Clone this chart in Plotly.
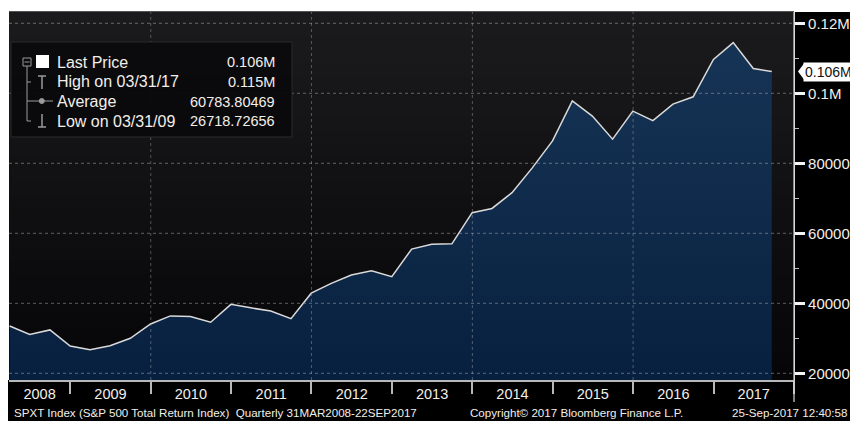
import pandas as pd
import plotly.graph_objects as go

# ---------------- data ----------------
dates = list(pd.date_range("2008-03-31", periods=38, freq="QE").strftime("%Y-%m-%d")) + ["2017-09-22"]
values = [
    33500, 31100, 32400, 27800,          # 2008
    26718.73, 27900, 30000, 34100,       # 2009
    36400, 36200, 34600, 39700,          # 2010
    38700, 37800, 35600, 42900,          # 2011
    45700, 48100, 49300, 47600,          # 2012
    55500, 56900, 57000, 65900,          # 2013
    67100, 71600, 78700, 86400,          # 2014
    97800, 93500, 86900, 94900,          # 2015
    92200, 96900, 99000, 109700,         # 2016
    114500, 107100, 106200,              # 2017
]
years = list(range(2008, 2018))
y_tick_vals = [20000, 40000, 60000, 80000, 100000, 120000]
y_tick_text = ["20000", "40000", "60000", "80000", "0.1M", "0.12M"]
legend_labels = ["Last Price", "High on 03/31/17", "Average", "Low on 03/31/09"]
legend_values = ["0.106M", "0.115M", "60783.80469", "26718.72656"]
footer_left = "SPXT Index (S&P 500 Total Return Index)  Quarterly 31MAR2008-22SEP2017"
footer_mid = "Copyright© 2017 Bloomberg Finance L.P."
footer_right = "25-Sep-2017 12:40:58"

# ---------------- layout geometry ----------------
# the page body has an 8px margin, so the figure origin sits at (8, 8)
OFF = 8
PW, PH = 858, 421                      # page size
FW, FH = PW - OFF, PH - OFF            # figure size
L, R, T, B = 9, 794, 12, 380           # plot area in page pixels
W, H = R - L, B - T
x_range = ["2008-03-28", "2018-01-01"]
y_range = [18090, 123230]

def px(x):
    return (x - L) / W

def py(y):
    return (B - y) / H

FONT = "Liberation Sans, Arial, sans-serif"
TXT = "#f2efe9"

def mid(a, b):
    ta, tb = pd.Timestamp(a), pd.Timestamp(b)
    return (ta + (tb - ta) / 2).strftime("%Y-%m-%d")

year_centers = []
for yr in years:
    start = max(pd.Timestamp(f"{yr}-01-01"), pd.Timestamp(x_range[0]))
    year_centers.append(mid(start, f"{yr + 1}-01-01"))
year_bounds = [f"{yr}-01-01" for yr in years[1:]] + ["2018-01-01"]

fig = go.Figure()
fig.add_trace(go.Scatter(
    x=dates, y=values, mode="lines",
    line=dict(color="#dadada", width=1.5),
    fill="tozeroy",
    fillgradient=dict(type="vertical", start=y_range[0], stop=max(values),
                      colorscale=[[0, "#08203f"], [1, "#163456"]]),
    hoverinfo="x+y", showlegend=False,
))

shapes = []
# white strips (top and left)
shapes.append(dict(type="rect", xref="paper", yref="paper", x0=-0.05, x1=1.2,
                   y0=1, y1=1.2, fillcolor="white", line_width=0, layer="below"))
shapes.append(dict(type="rect", xref="paper", yref="paper", x0=-0.05, x1=0,
                   y0=0, y1=1.2, fillcolor="white", line_width=0, layer="below"))
# background gradient bands
NB = 28
c_top, c_bot = (27, 27, 29), (6, 6, 8)
for i in range(NB):
    f = i / (NB - 1)
    c = tuple(round(c_bot[k] + (c_top[k] - c_bot[k]) * f) for k in range(3))
    shapes.append(dict(type="rect", xref="paper", yref="paper", x0=0, x1=1,
                       y0=i / NB, y1=(i + 1) / NB + 0.002,
                       fillcolor=f"rgb{c}", line_width=0, layer="below"))
# grid (dotted, drawn above the fill)
for v in y_tick_vals:
    shapes.append(dict(type="line", xref="paper", yref="y", x0=0, x1=1, y0=v, y1=v,
                       line=dict(color="rgba(165,165,170,0.55)", width=1, dash="dot"),
                       layer="above"))
for yr in [2010, 2012, 2014, 2016]:
    shapes.append(dict(type="line", xref="x", yref="paper", x0=f"{yr}-01-01", x1=f"{yr}-01-01",
                       y0=0, y1=1,
                       line=dict(color="rgba(165,165,170,0.45)", width=1, dash="dot"),
                       layer="above"))
# right axis line extending into bottom band
shapes.append(dict(type="line", xref="paper", yref="paper", x0=1, x1=1,
                   y0=py(402), y1=1, line=dict(color="#d8d8d8", width=1.2), layer="above"))

# legend box
shapes.append(dict(type="rect", xref="paper", yref="paper", x0=px(11), x1=px(292),
                   y0=py(137), y1=py(42), fillcolor="rgba(10,10,12,0.96)",
                   line=dict(color="#2a2a2d", width=1), layer="above"))
ICON = "#9a9a9a"
def seg(x0, y0, x1, y1, w=1, color=ICON):
    shapes.append(dict(type="line", xref="paper", yref="paper", x0=px(x0), x1=px(x1),
                       y0=py(y0), y1=py(y1), line=dict(color=color, width=w), layer="above"))
shapes.append(dict(type="rect", xref="paper", yref="paper", x0=px(23), x1=px(31),
                   y0=py(66), y1=py(58), line=dict(color=ICON, width=1),
                   fillcolor="rgba(0,0,0,0)", layer="above"))
seg(24.5, 62, 29.5, 62)
seg(27, 66, 27, 121)
seg(27, 82, 31, 82)
seg(27, 101, 53, 101)
seg(27, 121, 31, 121)
shapes.append(dict(type="rect", xref="paper", yref="paper", x0=px(36), x1=px(49),
                   y0=py(68), y1=py(55), fillcolor="white", line_width=0, layer="above"))
seg(38, 76, 46, 76, 1.5)
seg(42, 76, 42, 89, 1.5)
shapes.append(dict(type="circle", xref="paper", yref="paper", x0=px(39.3), x1=px(44.3),
                   y0=py(103.5), y1=py(98.5), line=dict(color=ICON, width=1),
                   fillcolor=ICON, layer="above"))
seg(42, 114, 42, 127, 1.5)
seg(38, 127, 46, 127, 1.5)

# last price tag pointer
shapes.append(dict(type="path", xref="paper", yref="y", xsizemode="pixel", ysizemode="pixel",
                   xanchor=1, yanchor=values[-1],
                   path="M 4 0 L 10 8 L 10 -8 Z", fillcolor="white", line_width=0))

annotations = []
rows_y = [62, 82, 101.5, 121]
for lab, val, ry in zip(legend_labels, legend_values, rows_y):
    annotations.append(dict(xref="paper", yref="paper", x=px(55), y=py(ry), text=lab,
                            xanchor="left", yanchor="middle", showarrow=False,
                            font=dict(family=FONT, size=16, color=TXT)))
    annotations.append(dict(xref="paper", yref="paper", x=px(277), y=py(ry), text=val,
                            xanchor="right", yanchor="middle", showarrow=False,
                            font=dict(family=FONT, size=14.5, color=TXT)))
annotations.append(dict(xref="paper", yref="y", x=1, y=values[-1], xshift=9,
                        text=f"{values[-1] / 1e6:.3f}M", xanchor="left", yanchor="middle",
                        showarrow=False, bgcolor="white", borderpad=1,
                        font=dict(family=FONT, size=14, color="#101010")))
fy = py(412)
FS = 11.6
annotations.append(dict(xref="paper", yref="paper", x=px(12), y=fy, text=footer_left,
                        xanchor="left", yanchor="middle", showarrow=False,
                        font=dict(family=FONT, size=FS, color=TXT)))
annotations.append(dict(xref="paper", yref="paper", x=px(468), y=fy, text=footer_mid,
                        xanchor="left", yanchor="middle", showarrow=False,
                        font=dict(family=FONT, size=FS, color=TXT)))
annotations.append(dict(xref="paper", yref="paper", x=px(849), y=fy, text=footer_right,
                        xanchor="right", yanchor="middle", showarrow=False,
                        font=dict(family=FONT, size=FS, color=TXT)))

fig.update_layout(
    width=FW, height=FH,
    margin=dict(l=L - OFF, r=PW - R, t=T - OFF, b=PH - B, pad=0),
    paper_bgcolor="#000000", plot_bgcolor="#0d0d0f",
    showlegend=False,
    shapes=shapes, annotations=annotations,
    xaxis=dict(
        type="date", range=x_range, showgrid=False, zeroline=False,
        showline=True, linecolor="#b8b8b8", linewidth=2,
        tickmode="array", tickvals=year_centers, ticktext=[str(y) for y in years],
        ticks="", ticklabelstandoff=0,
        tickfont=dict(family=FONT, size=14.5, color=TXT),
        minor=dict(tickmode="array", tickvals=year_bounds, ticks="outside",
                   ticklen=12, tickwidth=1.5, tickcolor="#b8b8b8", showgrid=False),
    ),
    yaxis=dict(
        side="right", range=y_range, showgrid=False, zeroline=False,
        showline=True, linecolor="#d8d8d8", linewidth=1.2,
        tickmode="array", tickvals=y_tick_vals, ticktext=y_tick_text,
        ticks="outside", ticklen=10, tickwidth=2.5, tickcolor="#f4f4f4",
        tickfont=dict(family=FONT, size=15, color=TXT),
        minor=dict(tickmode="linear", tick0=0, dtick=10000, ticks="outside",
                   ticklen=4, tickwidth=1, tickcolor="#bdbdbd", showgrid=False),
    ),
)

fig.write_html("out.html")
